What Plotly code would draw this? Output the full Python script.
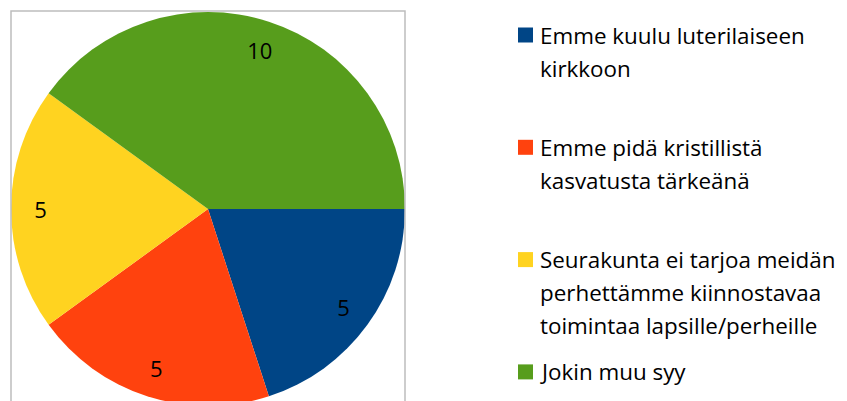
import plotly.graph_objects as go

# ---- data ----
labels = [
    "Emme kuulu luterilaiseen kirkkoon",
    "Emme pidä kristillistä kasvatusta tärkeänä",
    "Seurakunta ei tarjoa meidän perhettämme kiinnostavaa toimintaa lapsille/perheille",
    "Jokin muu syy",
]
legend_lines = [
    ["Emme kuulu luterilaiseen", "kirkkoon"],
    ["Emme pidä kristillistä", "kasvatusta tärkeänä"],
    ["Seurakunta ei tarjoa meidän", "perhettämme kiinnostavaa", "toimintaa lapsille/perheille"],
    ["Jokin muu syy"],
]
values = [5, 5, 5, 10]
colors = ["#004586", "#ff420e", "#ffd320", "#579d1c"]

W, H = 847, 401
OFF = 8  # page body offset
FONT = "Open Sans"


def px(x):
    return (x - OFF) / W


def py(y):
    return 1 - (y - OFF) / H


fig = go.Figure()

dom_x = [px(11), px(405)]
dom_y = [py(406), py(12)]

# main pie
fig.add_trace(go.Pie(
    labels=labels, values=values, sort=False, direction="clockwise", rotation=90,
    marker=dict(colors=colors, line=dict(width=0)),
    textinfo="none", hoverinfo="label+value", showlegend=False,
    domain=dict(x=dom_x, y=dom_y),
))
# transparent ring carrying the value labels near the outer edge
fig.add_trace(go.Pie(
    labels=labels, values=values, sort=False, direction="clockwise", rotation=90,
    hole=0.70,
    marker=dict(colors=["rgba(0,0,0,0)"] * len(values), line=dict(width=0)),
    textinfo="value", textposition="inside", insidetextorientation="horizontal",
    insidetextfont=dict(family=FONT, size=22, color="#000000"),
    hoverinfo="skip", showlegend=False,
    domain=dict(x=dom_x, y=dom_y),
))

shapes = [dict(type="rect", xref="paper", yref="paper",
               x0=px(11), x1=px(405), y0=-0.05, y1=py(11),
               line=dict(color="#bdbdbd", width=1.5), fillcolor="rgba(0,0,0,0)",
               layer="above")]
annotations = []
sq = 15
for i, (lines, col) in enumerate(zip(legend_lines, colors)):
    y0 = 35 + 112.3 * i
    shapes.append(dict(type="rect", xref="paper", yref="paper",
                       x0=px(518), x1=px(518 + sq),
                       y0=py(y0 + sq / 2), y1=py(y0 - sq / 2),
                       fillcolor=col, line=dict(width=0)))
    for j, line in enumerate(lines):
        yc = y0 + 33 * j
        annotations.append(dict(text=line, xref="paper", yref="paper",
                                x=px(538), y=py(yc), xanchor="left", yanchor="middle",
                                showarrow=False,
                                font=dict(family=FONT, size=22.4, color="#000000")))

fig.update_layout(
    width=W, height=H, margin=dict(l=0, r=0, t=0, b=0),
    paper_bgcolor="white", plot_bgcolor="white",
    shapes=shapes, annotations=annotations,
)
fig.write_html("out.html")
